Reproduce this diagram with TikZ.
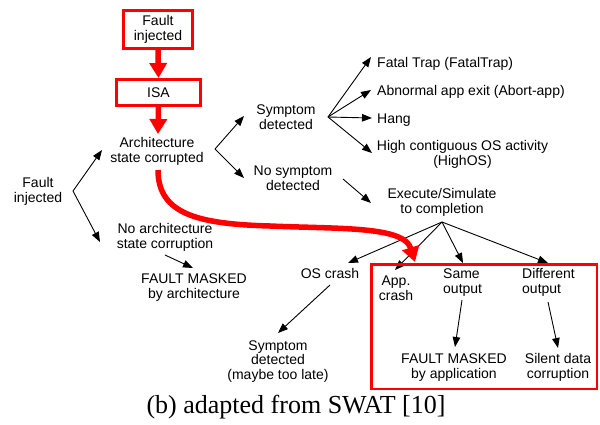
\documentclass[tikz,border=0pt]{standalone}
\usepackage{fontspec}
\setmainfont{Liberation Sans}
\newfontfamily\capfont{Liberation Serif}
\usetikzlibrary{arrows.meta}
\begin{document}
\begin{tikzpicture}[x=1pt,y=-1pt,
  lbl/.style={font=\fontsize{14}{15}\selectfont, align=center, inner sep=0pt},
  lblL/.style={lbl, align=left, anchor=base west},
  thinarrow/.style={draw=black, line width=0.9pt, -{Triangle[length=10pt,width=7.5pt]}},
  bigarrow/.style={draw=red, line width=5.5pt, -{Triangle[length=15pt,width=17pt]}},
  redbox/.style={draw=red, line width=3pt, inner sep=0pt, font=\fontsize{14}{15}\selectfont, align=center},
]
\useasboundingbox (0,0) rectangle (600,424);

% multi-line nodes are placed by the baseline of their last line

% --- red path: fault -> ISA -> architecture state
\node[redbox, minimum width=69, minimum height=38] (fault) at (158,29.5) {Fault\\injected};
\node[redbox, minimum width=84, minimum height=26] (isa) at (158.5,92.5) {ISA};
\node[lbl, anchor=base] (arch) at (157,162) {Architecture\\state corrupted};
\coordinate (archin) at (158,134);
\draw[bigarrow] (fault.south) -- (isa.north);
\draw[bigarrow] (isa.south) -- (archin);

% --- left tree
\node[lbl, anchor=base] (fi) at (38,202) {Fault\\injected};
\node[lbl, anchor=base] (noarch) at (165,248) {No architecture\\state corruption};
\node[lbl, anchor=base] (maskarch) at (194,298) {FAULT MASKED\\by architecture};
\coordinate (fib) at (73,191);
\coordinate (archtip) at (102,150);
\coordinate (noarchtip) at (100,242);
\draw[thinarrow] (fib) -- (archtip);
\draw[thinarrow] (fib) -- (noarchtip);
\coordinate (noarchout) at (165,255);
\coordinate (maskarchtip) at (193,268);
\draw[thinarrow] (noarchout) -- (maskarchtip);

% --- symptom branch
\node[lbl, anchor=base] (symp) at (286,129) {Symptom\\detected};
\node[lbl, anchor=base] (nosymp) at (293,190) {No symptom\\detected};
\coordinate (archb) at (215,149);
\coordinate (symptip) at (244,116);
\coordinate (nosymptip) at (244,178);
\draw[thinarrow] (archb) -- (symptip);
\draw[thinarrow] (archb) -- (nosymptip);

\node[lblL] (fatal) at (377,67) {Fatal Trap (FatalTrap)};
\node[lblL] (abort) at (377,95) {Abnormal app exit (Abort-app)};
\node[lblL] (hang) at (377,123) {Hang};
\node[lbl, anchor=base] (highos) at (462.5,165) {High contiguous OS activity\\(HighOS)};
\coordinate (sympb) at (328,117);
\coordinate (fataltip) at (371,57);
\coordinate (aborttip) at (371,90);
\coordinate (hangtip) at (372,118);
\coordinate (highostip) at (372,153);
\draw[thinarrow] (sympb) -- (fataltip);
\draw[thinarrow] (sympb) -- (aborttip);
\draw[thinarrow] (sympb) -- (hangtip);
\draw[thinarrow] (sympb) -- (highostip);

% --- execution branch
\node[lbl, anchor=base] (exec) at (442,213) {Execute/Simulate\\to completion};
\coordinate (nosympout) at (343,179);
\coordinate (exectip) at (371,203);
\draw[thinarrow] (nosympout) -- (exectip);

\node[lbl, anchor=base] (oscrash) at (330,278) {OS crash};
\node[lbl, anchor=base] (appcrash) at (396,300) {App.\\crash};
\node[lblL] (same) at (443,293) {Same\\output};
\node[lblL] (diff) at (522,293) {Different\\output};
\coordinate (execb) at (442,222);
\coordinate (ostip) at (348,263);
\coordinate (apptip) at (395,270);
\coordinate (sametip) at (463,263);
\coordinate (difftip) at (548,263);
\draw[thinarrow] (execb) -- (ostip);
\draw[thinarrow] (execb) -- (apptip);
\draw[thinarrow] (execb) -- (sametip);
\draw[thinarrow] (execb) -- (difftip);

\node[lbl, anchor=base, font=\fontsize{14}{14.6}\selectfont] (late) at (278,379.2) {Symptom\\detected\\(maybe too late)};
\node[lbl, anchor=base] (maskapp) at (454,378) {FAULT MASKED\\by application};
\node[lbl, anchor=base] (sdc) at (558,378) {Silent data\\corruption};
\coordinate (osout) at (330,285);
\coordinate (latetip) at (278,333);
\coordinate (sameout) at (462,300);
\coordinate (maskapptip) at (455,347);
\coordinate (diffout) at (548,302);
\coordinate (sdctip) at (558,348);
\draw[thinarrow] (osout) -- (latetip);
\draw[thinarrow] (sameout) -- (maskapptip);
\draw[thinarrow] (diffout) -- (sdctip);

% --- application-level outcomes grouped
\node[draw=red, line width=2.5pt, inner sep=0pt, minimum width=225.5, minimum height=124.5] (appbox) at (484,326.5) {};

% --- highlighted propagation path
\coordinate (curvestart) at (158,170);
\coordinate (curvetip) at (415,262);
\draw[bigarrow] (curvestart) .. controls (158,215) and (200,224) .. (270,226)
  .. controls (340,229) and (404,226) .. (curvetip);

% --- caption
\node[inner sep=0pt, anchor=base, font=\capfont\fontsize{26}{28}\selectfont] (caption) at (296,413) {(b) adapted from SWAT [10]};
\end{tikzpicture}
\end{document}
